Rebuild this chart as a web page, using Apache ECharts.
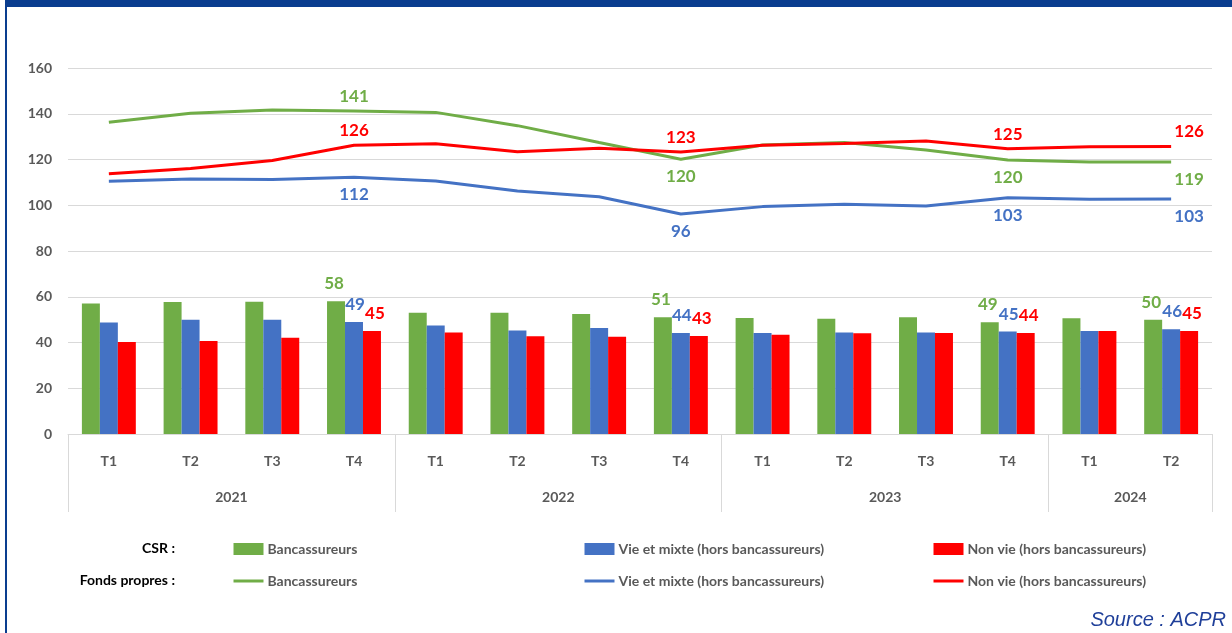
<!DOCTYPE html>
<html>
<head>
<meta charset="utf-8">
<script src="https://cdn.jsdelivr.net/npm/echarts@6/dist/echarts.min.js"></script>
<style>
  html, body { margin: 0; padding: 0; background: #fff; }
  #main { width: 1232px; height: 633px; }
</style>
</head>
<body>
<div id="main"></div>
<script>
// trimestres et années
var quarters = ['T1', 'T2', 'T3', 'T4', 'T1', 'T2', 'T3', 'T4', 'T1', 'T2', 'T3', 'T4', 'T1', 'T2']
var years = ['2021', '2022', '2023', '2024']
var yearSpans = [4, 4, 4, 2]
var yTicks = [0, 20, 40, 60, 80, 100, 120, 140, 160]

// CSR (barres)
var csrBanc = [57, 57.7, 57.8, 58, 53, 53, 52.5, 51, 50.7, 50.4, 51, 48.8, 50.6, 50]
var csrVie = [48.7, 50, 50, 49, 47.4, 45.2, 46.3, 44.2, 44.2, 44.4, 44.4, 44.8, 45, 45.8]
var csrNonVie = [40.2, 40.7, 42.1, 45, 44.4, 42.7, 42.5, 42.8, 43.4, 44, 44.2, 44.1, 45, 45]

// Fonds propres (courbes)
var fpBanc = [136.3, 140.2, 141.6, 141.2, 140.6, 134.8, 127.4, 120.1, 126.3, 127.4, 124.2, 119.8, 118.9, 118.9]
var fpVie = [110.5, 111.5, 111.3, 112.2, 110.6, 106.2, 103.7, 96.2, 99.4, 100.4, 99.7, 103.3, 102.6, 102.7]
var fpNonVie = [113.8, 116.1, 119.6, 126.2, 126.9, 123.4, 124.9, 123.3, 126.2, 127.0, 128.1, 124.7, 125.6, 125.7]

// points étiquetés
var labelled = [3, 7, 11, 13]

var GREEN = '#70ad47', BLUE = '#4472c4', RED = '#ff0000'
var TXT = '#595959'
var FONT = 'Lato'

// bornes et milieux des années sur l'axe secondaire
var yearBounds = [0], yearMids = []
yearSpans.forEach(function (n, i) {
  var start = yearBounds[i]
  yearBounds.push(start + n)
  yearMids.push(start + n / 2)
})

function withLabels (values, labelFor) {
  return values.map(function (v, i) {
    if (labelled.indexOf(i) < 0) return v
    return { value: v, label: Object.assign({ show: true }, labelFor ? labelFor(i) : {}) }
  })
}

function valueLabel (color) {
  return {
    show: false,
    color: color,
    fontFamily: FONT,
    fontWeight: 'bold',
    fontSize: 17,
    formatter: function (p) { return Math.round(p.value) }
  }
}

function barSeries (name, values, color, dx) {
  var lbl = valueLabel(color)
  lbl.position = 'top'
  lbl.distance = 9
  lbl.offset = [dx, 0]
  return {
    name: name,
    type: 'bar',
    barGap: '0%',
    barCategoryGap: '34%',
    itemStyle: { color: color },
    label: lbl,
    data: withLabels(values),
    z: 2
  }
}

function lineSeries (name, values, color, posFor) {
  return {
    name: name,
    type: 'line',
    symbol: 'circle',
    symbolSize: 0,
    showSymbol: true,
    lineStyle: { color: color, width: 3 },
    itemStyle: { color: color },
    label: valueLabel(color),
    data: withLabels(values, function (i) {
      var pos = posFor(i)
      return {
        position: pos,
        distance: pos === 'top' ? 6 : 9,
        offset: i === quarters.length - 1 ? [18, 0] : [0, 0]
      }
    }),
    z: 5
  }
}

var legendBase = {
  orient: 'vertical',
  top: 541,
  padding: 0,
  itemWidth: 30,
  itemHeight: 12,
  itemGap: 16,
  selectedMode: false,
  textStyle: { color: TXT, fontFamily: FONT, fontWeight: 'bold', fontSize: 14, lineHeight: 16, padding: [0, 0, 0, -1] },
  formatter: function (name) { return name.replace(/^(CSR|FP) /, '') }
}

function legendItems (barName, lineName) {
  return [
    { name: barName, icon: 'rect' },
    { name: lineName, itemStyle: { opacity: 0 }, lineStyle: { width: 3 } }
  ]
}

var chart = echarts.init(document.getElementById('main'))

chart.setOption({
  animation: false,
  textStyle: { fontFamily: FONT },
  grid: [
    { left: 68, right: 20, top: 68, bottom: 199 },
    { left: 68, right: 20, top: 68, bottom: 199 }
  ],
  xAxis: [
    {
      type: 'category',
      gridIndex: 0,
      data: quarters,
      axisLine: { lineStyle: { color: '#d9d9d9', width: 1 } },
      axisTick: { show: false },
      axisLabel: { color: TXT, fontFamily: FONT, fontWeight: 'bold', fontSize: 14, margin: 20 }
    },
    {
      type: 'value',
      gridIndex: 1,
      min: 0,
      max: quarters.length,
      axisLine: { show: false },
      splitLine: { show: false },
      axisTick: {
        show: true,
        customValues: yearBounds,
        length: 78,
        lineStyle: { color: '#d9d9d9', width: 1 }
      },
      axisLabel: {
        customValues: yearMids,
        margin: 56,
        color: TXT,
        fontFamily: FONT,
        fontWeight: 'bold',
        fontSize: 14,
        formatter: function (v) { return years[yearMids.indexOf(v)] }
      }
    }
  ],
  yAxis: [
    {
      type: 'value',
      gridIndex: 0,
      min: yTicks[0],
      max: yTicks[yTicks.length - 1],
      interval: 20,
      axisLine: { show: false },
      axisTick: { show: false },
      splitLine: { lineStyle: { color: '#d9d9d9', width: 1 } },
      axisLabel: { color: TXT, fontFamily: FONT, fontWeight: 'bold', fontSize: 14, margin: 16 }
    },
    { type: 'value', gridIndex: 1, show: false }
  ],
  legend: [
    Object.assign({ left: 232, data: legendItems('CSR Bancassureurs', 'FP Bancassureurs') }, legendBase),
    Object.assign({ left: 583, data: legendItems('CSR Vie et mixte (hors bancassureurs)', 'FP Vie et mixte (hors bancassureurs)') }, legendBase),
    Object.assign({ left: 932, data: legendItems('CSR Non vie (hors bancassureurs)', 'FP Non vie (hors bancassureurs)') }, legendBase)
  ],
  graphic: [
    { type: 'rect', shape: { x: 5, y: 0, width: 1227, height: 7 }, style: { fill: '#0a3d8f' }, silent: true },
    { type: 'rect', shape: { x: 5, y: 0, width: 2, height: 633 }, style: { fill: '#0a3d8f' }, silent: true },
    { type: 'text', style: { text: 'CSR :', x: 175, y: 548, align: 'right', verticalAlign: 'middle', font: 'bold 14px Lato', fill: '#000' } },
    { type: 'text', style: { text: 'Fonds propres :', x: 175, y: 580, align: 'right', verticalAlign: 'middle', font: 'bold 14px Lato', fill: '#000' } },
    { type: 'text', style: { text: 'Source : ACPR', x: 1226, y: 620, align: 'right', verticalAlign: 'middle', font: 'italic 20px "Liberation Sans"', fill: '#1f3f99' } }
  ],
  series: [
    barSeries('CSR Bancassureurs', csrBanc, GREEN, -2),
    barSeries('CSR Vie et mixte (hors bancassureurs)', csrVie, BLUE, 1),
    barSeries('CSR Non vie (hors bancassureurs)', csrNonVie, RED, 3),
    lineSeries('FP Bancassureurs', fpBanc, GREEN, function (i) { return i === 3 ? 'top' : 'bottom' }),
    lineSeries('FP Vie et mixte (hors bancassureurs)', fpVie, BLUE, function () { return 'bottom' }),
    lineSeries('FP Non vie (hors bancassureurs)', fpNonVie, RED, function () { return 'top' })
  ]
})
</script>
</body>
</html>
